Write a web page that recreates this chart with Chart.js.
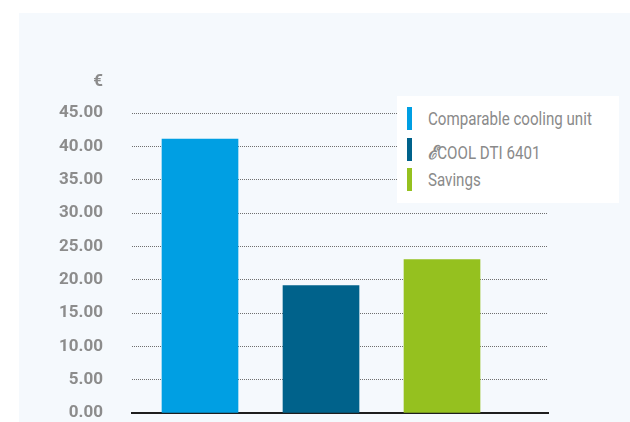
<!DOCTYPE html>
<html>
<head>
<meta charset="utf-8">
<script src="https://cdn.jsdelivr.net/npm/chart.js@4"></script>
<style>
  html, body { margin: 0; padding: 0; background: #fff; }
  #wrap { position: relative; width: 630px; height: 422px; overflow: hidden; }
  #bg { position: absolute; left: 19px; top: 13px; right: 0; bottom: 0; background: #f5f9fd; }
  #chart { position: absolute; left: 0; top: 0; }
  #unit { position: absolute; right: 527px; top: 70px; font: bold 17px Roboto, sans-serif; color: #8c8c8c; }
  #legend { position: absolute; left: 397px; top: 96px; width: 222px; height: 107px; background: #fff; }
  .item { position: absolute; left: 10px; height: 23px; }
  .swatch { position: absolute; left: 0; top: 0; width: 5px; height: 23px; }
  .label { position: absolute; left: 21px; top: 1px; white-space: nowrap; font: 18px Roboto, 'DejaVu Serif', sans-serif; color: #8a8a8a; transform: scaleX(0.84); transform-origin: 0 0; }
  .logo { font-family: 'DejaVu Serif', serif; font-style: italic; font-weight: bold; font-size: 19px; }
</style>
</head>
<body>
<div id="wrap">
  <div id="bg"></div>
  <canvas id="chart" width="630" height="422"></canvas>
  <div id="unit">€</div>
  <div id="legend"></div>
</div>
<script>
const categories = ['Comparable cooling unit', 'ℰCOOL DTI 6401', 'Savings'];
const values = [41.1, 19.1, 23.0];
const colors = ['#009fe3', '#00628b', '#95c11f'];
const yTicks = [0, 5, 10, 15, 20, 25, 30, 35, 40, 45];

const datasets = categories.map((name, i) => ({
  label: name,
  data: [{ x: i + 1, y: values[i] }],
  backgroundColor: colors[i],
  barThickness: 76,
  grouped: false
}));

// html legend, built from the same arrays
const legendDiv = document.getElementById('legend');
const legendTops = [11, 42, 72];
categories.forEach((name, i) => {
  const item = document.createElement('div');
  item.className = 'item';
  item.style.top = legendTops[i] + 'px';
  const text = name.replace('ℰ', '<span class="logo">ℰ</span>');
  item.innerHTML = `<div class="swatch" style="background:${colors[i]}"></div><div class="label">${text}</div>`;
  legendDiv.appendChild(item);
});

new Chart(document.getElementById('chart'), {
  type: 'bar',
  data: { datasets },
  options: {
    responsive: false,
    animation: false,
    layout: { padding: { top: 113, right: 82, bottom: 9, left: 0 } },
    plugins: { legend: { display: false }, tooltip: { enabled: false } },
    scales: {
      x: {
        type: 'linear',
        offset: false,
        min: 0.438,
        max: 3.876,
        afterFit: (scale) => { scale.height = 0; },
        ticks: { display: false },
        grid: { display: false, drawTicks: false },
        border: { display: true, color: '#1e1e1e', width: 2 }
      },
      y: {
        min: 0,
        max: 45,
        afterFit: (scale) => {
          scale.width = 132;
          // tick padding would otherwise push the plot up from the bottom
          scale.paddingTop = 0;
          scale.paddingBottom = 0;
        },
        afterBuildTicks: (scale) => { scale.ticks = yTicks.map(v => ({ value: v })); },
        ticks: {
          padding: 29,
          color: '#8c8c8c',
          font: { family: 'Roboto', weight: 'bold', size: 17 },
          callback: (v) => Number(v).toFixed(2)
        },
        grid: { color: '#6f6f6f', lineWidth: 1, drawTicks: false },
        border: { display: false, dash: [1, 1] }
      }
    }
  }
});
</script>
</body>
</html>
